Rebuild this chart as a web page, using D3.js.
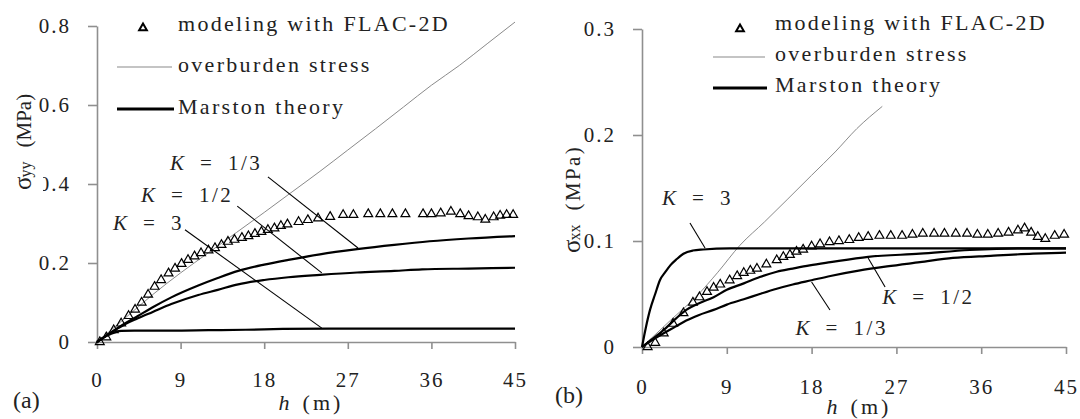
<!DOCTYPE html>
<html>
<head>
<meta charset="utf-8">
<script src="https://cdn.jsdelivr.net/npm/d3@7"></script>
<style>
  body { margin: 0; background: #fff; }
  svg text { fill: #222; }
</style>
</head>
<body>
<svg id="chart" width="1080" height="419" font-family="'Liberation Serif', 'Times New Roman', serif"></svg>
<script>
// ---- data (h in m, stress in MPa) ----
const hTicks = [0, 9, 18, 27, 36, 45];
const syyTicks = [0, 0.2, 0.4, 0.6, 0.8];
const sxxTicks = [0, 0.1, 0.2, 0.3];
const legendLabels = ["modeling with FLAC-2D", "overburden stress", "Marston theory"];

// (a) vertical stress
const flacYY = [[0.3,0],[1.0,0.012],[1.8,0.03],[2.6,0.047],[3.4,0.066],[4.1,0.082],[4.8,0.1],[5.5,0.12],
  [6.2,0.14],[6.9,0.157],[7.7,0.174],[8.4,0.186],[9.1,0.198],[9.8,0.208],[10.5,0.217],[11.2,0.225],
  [12.0,0.232],[12.7,0.238],[13.4,0.246],[14.1,0.254],[14.8,0.259],[15.6,0.264],[16.3,0.268],[17.0,0.274],
  [17.7,0.279],[18.4,0.284],[19.1,0.288],[19.8,0.294],[20.5,0.298],[21.7,0.304],[22.7,0.309],[23.8,0.313],
  [25.1,0.317],[26.5,0.322],[27.6,0.322],[29.2,0.324],[30.5,0.324],[31.8,0.324],[33.2,0.324],[35.1,0.324],
  [36.0,0.324],[37.0,0.326],[38.1,0.33],[39.1,0.324],[40.0,0.319],[41.0,0.316],[41.8,0.31],[42.7,0.316],
  [43.4,0.32],[44.1,0.322],[44.8,0.322]];
const overYY = [[0,0],[3,0.06],[6,0.12],[9,0.175],[12,0.226],[15,0.277],[18,0.328],[21,0.38],[24,0.432],
  [27,0.486],[30,0.54],[33,0.595],[36,0.65],[39,0.70],[42,0.755],[45,0.81]];
const marstonYY_K13 = [[0,0],[1,0.016],[2,0.032],[3,0.047],[4.4,0.066],[6,0.088],[8,0.113],[10.9,0.143],
  [13,0.162],[15.2,0.18],[18,0.196],[20.6,0.208],[24,0.222],[28,0.235],[32,0.246],[35.8,0.255],[40,0.262],[45,0.268]];
const marstonYY_K12 = [[0,0],[1,0.016],[2,0.031],[3,0.045],[4.4,0.06],[6,0.076],[8,0.096],[10.9,0.119],
  [13,0.132],[15.2,0.146],[18,0.157],[20.6,0.164],[24,0.17],[28,0.176],[32,0.18],[35,0.184],[40,0.186],[45,0.188]];
const marstonYY_K3 = [[0,0],[1,0.015],[2,0.025],[2.6,0.028],[4,0.029],[8,0.029],[12,0.03],[16,0.031],
  [20,0.033],[25,0.034],[30,0.034],[35,0.034],[40,0.034],[45,0.034]];
// K labels: text anchor, leader start, leader end (data units)
const notesYY = [
  { k: "1/3", at: [7.86, 0.435], from: [18.4, 0.418], to: [28.1, 0.238] },
  { k: "1/2", at: [4.74, 0.354], from: [15.1, 0.344], to: [24.2, 0.175] },
  { k: "3",   at: [1.72, 0.284], from: [9.47, 0.284], to: [24.2, 0.035] }
];

// (b) horizontal stress
const flacXX = [[0.6,0],[1.4,0.004],[2.3,0.013],[3.3,0.022],[4.4,0.032],[5.4,0.042],[6.1,0.047],[6.9,0.052],
  [7.6,0.056],[8.3,0.059],[9.3,0.063],[10.1,0.067],[10.8,0.07],[11.5,0.072],[12.2,0.074],[13.2,0.078],
  [14.3,0.082],[15.0,0.085],[15.7,0.087],[16.4,0.09],[17.1,0.092],[18.0,0.095],[18.9,0.097],[19.9,0.099],
  [20.9,0.1],[22.0,0.101],[23.0,0.103],[24.0,0.104],[25.2,0.105],[26.4,0.105],[27.6,0.105],[28.7,0.106],
  [29.8,0.107],[31.0,0.107],[32.1,0.107],[33.3,0.107],[34.5,0.107],[35.6,0.106],[36.7,0.106],[37.8,0.107],
  [38.9,0.108],[39.9,0.11],[40.6,0.112],[41.3,0.108],[42.0,0.104],[42.8,0.102],[43.8,0.105],[44.8,0.106]];
const overXX = [[0,0],[3,0.025],[5.8,0.048],[8,0.07],[10.4,0.096],[13,0.118],[15.4,0.139],[18,0.162],
  [20.5,0.184],[22.8,0.206],[25.5,0.227]];
const marstonXX_K3 = [[0,0],[0.4,0.018],[0.85,0.035],[1.4,0.05],[1.9,0.063],[2.5,0.071],[3.0,0.077],[3.7,0.083],
  [4.4,0.088],[5.4,0.091],[6.5,0.092],[9.3,0.093],[20,0.093],[30,0.093],[45,0.093]];
const marstonXX_K12 = [[0,0],[1,0.007],[2.3,0.016],[3.5,0.026],[4.7,0.035],[6,0.041],[7.6,0.047],[9,0.054],
  [10.8,0.06],[12.5,0.066],[14.3,0.071],[16,0.074],[17.8,0.077],[20,0.08],[24,0.085],[29.5,0.088],
  [34.8,0.0915],[40,0.093],[45,0.093]];
const marstonXX_K13 = [[0,0],[1,0.006],[2.3,0.013],[3.5,0.019],[4.7,0.025],[6,0.03],[7.6,0.035],[9,0.04],
  [10.8,0.045],[12.5,0.05],[14.3,0.055],[16,0.059],[18,0.063],[20,0.067],[23,0.072],[26,0.076],[29.5,0.08],
  [33,0.084],[37,0.086],[41.5,0.088],[45,0.089]];
const notesXX = [
  { k: "3",   at: [2.12, 0.134], from: [5.09, 0.117], to: [6.69, 0.0934] },
  { k: "1/2", at: [25.5, 0.0406], from: [25.8, 0.0566], to: [24.0, 0.084] },
  { k: "1/3", at: [16.3, 0.0113], from: [19.95, 0.0349], to: [18.0, 0.0613] }
];

const AXIS_GREY = "#8f8f8f";
const FONT = "'Liberation Serif', 'Times New Roman', serif";
const svg = d3.select("#chart");

function drawPanel(p) {
  const x = d3.scaleLinear().domain([0, 45]).range(p.xRange);
  const y = d3.scaleLinear().domain(p.yDomain).range(p.yRange);
  const g = svg.append("g");

  const gx = g.append("g")
    .attr("transform", `translate(0,${y(0)})`)
    .call(d3.axisBottom(x).tickValues(hTicks).tickSize(7).tickSizeOuter(0).tickPadding(p.xPad));
  const gy = g.append("g")
    .attr("transform", `translate(${x(0)},0)`)
    .call(d3.axisLeft(y).tickValues(p.yTicks).tickSize(9).tickSizeOuter(0).tickPadding(17)
      .tickFormat(d3.format("~g")));
  [gx, gy].forEach(a => {
    a.attr("font-family", FONT).attr("font-size", 21);
    a.select(".domain").attr("stroke", AXIS_GREY).attr("stroke-width", 1.6);
    a.selectAll(".tick line").attr("stroke", AXIS_GREY).attr("stroke-width", 1.6);
    a.selectAll(".tick text").attr("fill", "#222").style("letter-spacing", "2px");
  });

  const line = d3.line().x(d => x(d[0])).y(d => y(d[1])).curve(d3.curveMonotoneX);

  g.append("path").datum(p.over)
    .attr("d", line).attr("fill", "none").attr("stroke", "#8a8a8a").attr("stroke-width", 1);

  g.selectAll(".marston").data(p.marston).enter().append("path")
    .attr("class", "marston")
    .attr("d", line).attr("fill", "none").attr("stroke", "#000").attr("stroke-width", 2.2);

  const tri = d3.symbol(d3.symbolTriangle).size(34);
  g.selectAll(".flac").data(p.flac).enter().append("path")
    .attr("class", "flac")
    .attr("d", tri)
    .attr("transform", d => `translate(${x(d[0])},${y(d[1])})`)
    .attr("fill", "none").attr("stroke", "#000").attr("stroke-width", 1.2);

  // K annotations with leader lines
  p.notes.forEach(n => {
    g.append("line")
      .attr("x1", x(n.from[0])).attr("y1", y(n.from[1]))
      .attr("x2", x(n.to[0])).attr("y2", y(n.to[1]))
      .attr("stroke", "#000").attr("stroke-width", 1.1);
    const t = g.append("text").attr("x", x(n.at[0])).attr("y", y(n.at[1])).attr("font-size", 21);
    t.append("tspan").style("font-style", "italic").text("K");
    t.append("tspan").attr("x", x(n.at[0]) + 30).text("=");
    t.append("tspan").attr("x", x(n.at[0]) + 58).style("letter-spacing", "2.5px").text(n.k);
  });

  // legend
  const L = p.legend;
  g.append("path").attr("d", d3.symbol(d3.symbolTriangle).size(26))
    .attr("transform", `translate(${L.sym[0]},${L.sym[1]})`)
    .attr("fill", "none").attr("stroke", "#000").attr("stroke-width", 2);
  g.append("line").attr("x1", L.line[0]).attr("x2", L.line[1]).attr("y1", L.lineY[0]).attr("y2", L.lineY[0])
    .attr("stroke", "#8a8a8a").attr("stroke-width", 1.2);
  g.append("line").attr("x1", L.line[0]).attr("x2", L.line[1] + 2).attr("y1", L.lineY[1]).attr("y2", L.lineY[1])
    .attr("stroke", "#000").attr("stroke-width", 3.2);
  legendLabels.forEach((s, i) => {
    g.append("text").attr("x", L.textX).attr("y", L.textY[i])
      .attr("font-size", 22).style("letter-spacing", "2.3px").text(s);
  });

  // y axis title, rotated; white box behind the sigma part
  const yl = g.append("g").attr("transform", `translate(${p.yTitle[0]},${p.yTitle[1]}) rotate(-90)`);
  const box = yl.append("rect").attr("fill", "#fff");
  const yt = yl.append("text").attr("x", 0).attr("y", 0);
  yt.append("tspan").attr("font-size", 25).text("σ");
  yt.append("tspan").attr("font-size", 16).attr("dx", -1).text(p.sub);
  yt.append("tspan").attr("font-size", 21).attr("dx", 14).style("letter-spacing", p.titleLs).text("(MPa)");
  const symLen = yt.node().getSubStringLength(0, 3);
  box.attr("x", -1).attr("y", -18).attr("width", symLen + 2).attr("height", 18 + p.boxPad);

  // x axis title
  const xt = g.append("text").attr("x", (p.xRange[0] + p.xRange[1]) / 2 + 5).attr("y", p.xTitleY)
    .attr("font-size", 22).attr("text-anchor", "middle");
  xt.append("tspan").style("font-style", "italic").text("h");
  xt.append("tspan").attr("dx", 13).style("letter-spacing", "3px").text("(m)");

  g.append("text").attr("x", p.tag[0]).attr("y", p.tag[1]).attr("font-size", 24).text(p.tagText);
}

drawPanel({
  xRange: [97, 515], yDomain: [0, 0.8], yRange: [342, 26], yTicks: syyTicks, xPad: 23,
  flac: flacYY, over: overYY, marston: [marstonYY_K13, marstonYY_K12, marstonYY_K3], notes: notesYY,
  legend: { sym: [143, 28], line: [117, 172], lineY: [67, 109], textX: 178, textY: [31, 72, 114] },
  yTitle: [31, 190], sub: "yy", titleLs: "0px", boxPad: 12, xTitleY: 410, tag: [13, 408], tagText: "(a)"
});
drawPanel({
  xRange: [642, 1066], yDomain: [0, 0.3], yRange: [347, 29], yTicks: sxxTicks, xPad: 25,
  flac: flacXX, over: overXX, marston: [marstonXX_K3, marstonXX_K12, marstonXX_K13], notes: notesXX,
  legend: { sym: [740, 29], line: [713, 765], lineY: [57, 88], textX: 775, textY: [30, 61, 92] },
  yTitle: [580, 253], sub: "xx", titleLs: "2.4px", boxPad: 2, xTitleY: 414, tag: [555, 403], tagText: "(b)"
});
</script>
</body>
</html>
